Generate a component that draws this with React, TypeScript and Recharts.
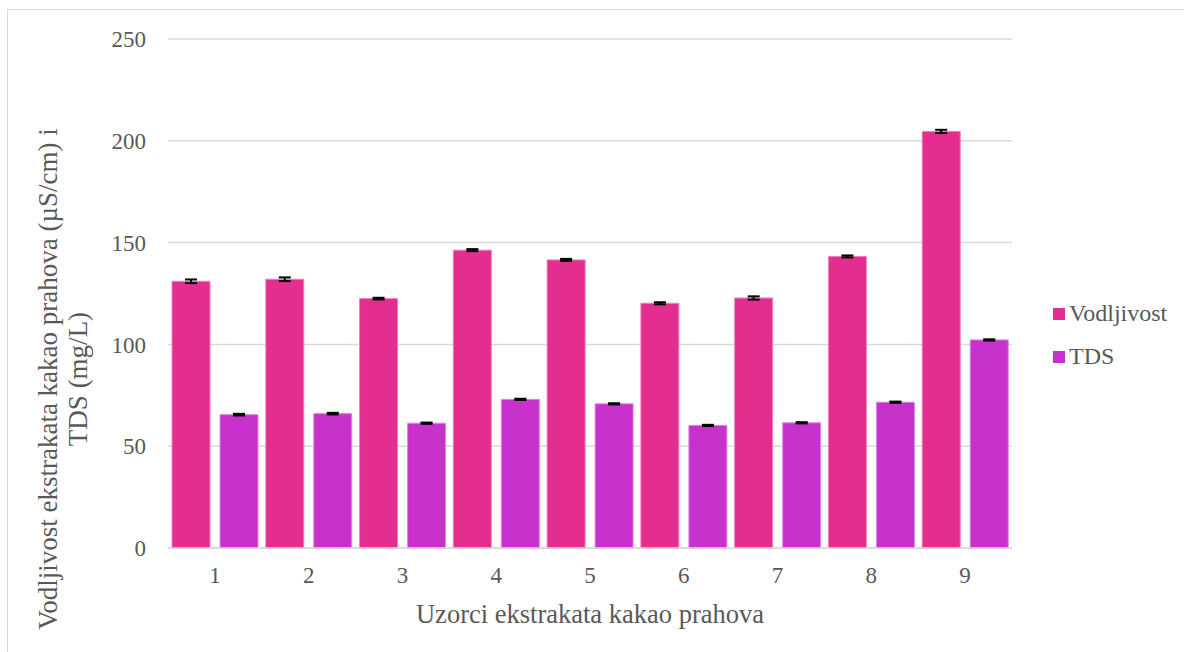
import { Bar, BarChart, CartesianGrid, ErrorBar, Label, Legend, XAxis, YAxis } from "recharts";

const samples = ["1", "2", "3", "4", "5", "6", "7", "8", "9"];
const vodljivost = [131, 132, 122.5, 146.3, 141.5, 120.2, 122.8, 143.2, 204.6];
const vodljivostErr = [0.9, 0.9, 0.4, 0.5, 0.5, 0.5, 0.8, 0.5, 0.8];
const tds = [65.5, 66, 61.3, 73, 70.8, 60.2, 61.5, 71.6, 102.2];
const tdsErr = [0.4, 0.4, 0.3, 0.3, 0.3, 0.3, 0.3, 0.3, 0.3];
const yTicks = [0, 50, 100, 150, 200, 250];
const seriesOrder = ["Vodljivost", "TDS"];

const data = samples.map((s, i) => ({
  sample: s,
  vodljivost: vodljivost[i],
  vodljivostErr: vodljivostErr[i],
  tds: tds[i],
  tdsErr: tdsErr[i],
}));

const FONT = '"Liberation Serif", "Times New Roman", serif';
const TEXT = "#595959";
const PINK = "#E32E8F";
const PURPLE = "#C832CC";

function YTitleRotated() {
  return (
    <g fontFamily={FONT} fontSize={27} fill={TEXT}>
      <text transform="translate(57,379) rotate(-90)" textAnchor="middle">
        Vodljivost ekstrakata kakao prahova (µS/cm) i
      </text>
      <text transform="translate(87,379) rotate(-90)" textAnchor="middle">
        TDS (mg/L)
      </text>
    </g>
  );
}

function LegendBox({ payload }: any) {
  const items = [...(payload || [])].sort(
    (a: any, b: any) => seriesOrder.indexOf(a.value) - seriesOrder.indexOf(b.value)
  );
  return (
    <div style={{ fontFamily: FONT, fontSize: 24, color: TEXT }}>
      {items.map((p: any) => (
        <div key={p.value} style={{ display: "flex", alignItems: "center", height: 43 }}>
          <span style={{ width: 12, height: 12, background: p.color, marginRight: 4, display: "inline-block" }} />
          <span>{p.value}</span>
        </div>
      ))}
    </div>
  );
}

export default function App() {
  return (
    <div style={{ position: "fixed", left: 0, top: 0, width: 1184, height: 652, overflow: "hidden", background: "#fff" }}>
      <div style={{ position: "absolute", left: 7, top: 9, width: 1300, height: 800, border: "1px solid #d9d9d9" }} />
      <div style={{ position: "absolute", left: 0, top: 0 }}>
        <BarChart
          width={1184}
          height={652}
          data={data}
          margin={{ top: 39, right: 172, bottom: 0, left: 0 }}
          barSize={38}
          barGap={10}
        >
          <CartesianGrid vertical={false} stroke="#d9d9d9" strokeWidth={1.5} />
          <XAxis
            dataKey="sample"
            height={104}
            axisLine={{ stroke: "#d9d9d9", strokeWidth: 1.5 }}
            tickLine={false}
            tickMargin={13}
            tick={{ fontFamily: FONT, fontSize: 23, fill: TEXT }}
          >
            <Label
              value="Uzorci ekstrakata kakao prahova"
              position="insideBottom"
              offset={29}
              style={{ fontFamily: FONT, fontSize: 26.5, fill: TEXT }}
            />
          </XAxis>
          <YAxis
            width={168}
            domain={[0, 250]}
            ticks={yTicks}
            axisLine={false}
            tickLine={false}
            tickMargin={16}
            tick={{ fontFamily: FONT, fontSize: 23, fill: TEXT }}
          >
            <Label content={() => <YTitleRotated />} />
          </YAxis>
          <Legend
            layout="vertical"
            align="center"
            verticalAlign="middle"
            wrapperStyle={{ left: 1053, top: 292, width: 130 }}
            content={<LegendBox />}
          />
          <Bar dataKey="vodljivost" name="Vodljivost" fill={PINK} stroke="#f07fbd" strokeWidth={1} isAnimationActive={false}>
            <ErrorBar dataKey="vodljivostErr" width={6} stroke="#000" strokeWidth={2} direction="y" />
          </Bar>
          <Bar dataKey="tds" name="TDS" fill={PURPLE} stroke="#dc86e0" strokeWidth={1} isAnimationActive={false}>
            <ErrorBar dataKey="tdsErr" width={6} stroke="#000" strokeWidth={2} direction="y" />
          </Bar>
        </BarChart>
      </div>
    </div>
  );
}
